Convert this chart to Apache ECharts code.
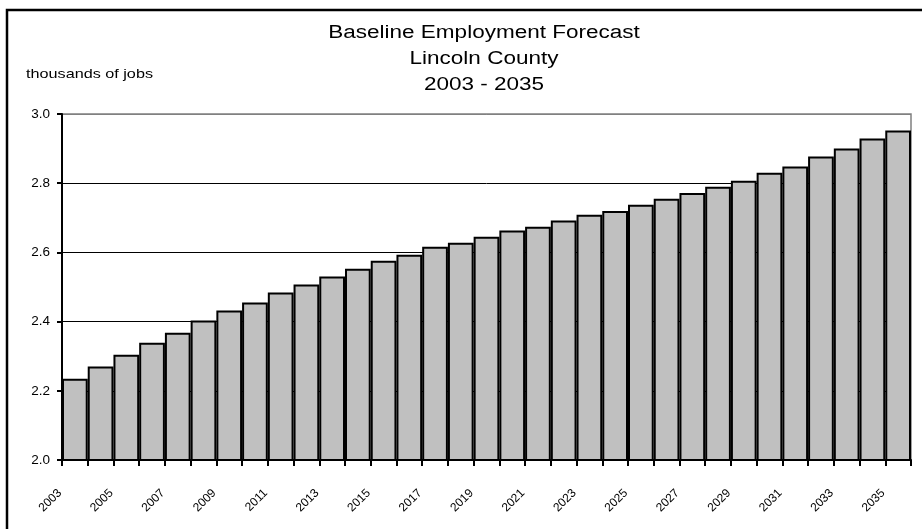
<!DOCTYPE html>
<html>
<head>
<meta charset="utf-8">
<script src="https://cdn.jsdelivr.net/npm/echarts@6/dist/echarts.min.js"></script>
<style>
html,body{margin:0;padding:0;background:#fff;}
#chart{width:922px;height:529px;}
</style>
</head>
<body>
<div id="chart"></div>
<script>
const years = ['2003','2004','2005','2006','2007','2008','2009','2010','2011','2012','2013',
  '2014','2015','2016','2017','2018','2019','2020','2021','2022','2023','2024',
  '2025','2026','2027','2028','2029','2030','2031','2032','2033','2034','2035'];
const jobs = [2.235, 2.270, 2.304, 2.339, 2.368, 2.403, 2.432, 2.455, 2.484, 2.507, 2.530,
  2.553, 2.576, 2.593, 2.616, 2.628, 2.645, 2.663, 2.674, 2.692, 2.709, 2.720,
  2.738, 2.755, 2.772, 2.790, 2.807, 2.830, 2.848, 2.877, 2.900, 2.929, 2.952];
const boundaryLabels = years.concat(['2036']);
const titleLines = ['Baseline Employment Forecast', 'Lincoln County', '2003 - 2035'];
const unitLabel = 'thousands of jobs';

const FONT = 'Liberation Sans, Arial, sans-serif';
const chart = echarts.init(document.getElementById('chart'));
const titleY = [33, 59.5, 85.5];
chart.setOption({
  animation: false,
  backgroundColor: '#ffffff',
  grid: { left: 62, right: 11, top: 114, bottom: 69, show: true, borderColor: '#808080', borderWidth: 1.5, outerBoundsMode: 'none' },
  graphic: [
    { type: 'rect', silent: true, z: -10, shape: { x: 7, y: 10, width: 1000, height: 1000 },
      style: { fill: 'none', stroke: '#000', lineWidth: 2.5 } }
  ].concat(titleLines.map((t, i) => ({
    type: 'text', silent: true, x: 484, y: titleY[i], scaleX: 1.25,
    style: { text: t, x: 0, y: 0, align: 'center', verticalAlign: 'middle', fontFamily: FONT, fontSize: 18, fill: '#000' }
  }))).concat([{
    type: 'text', silent: true, x: 26, y: 74, scaleX: 1.2,
    style: { text: unitLabel, x: 0, y: 0, align: 'left', verticalAlign: 'middle', fontFamily: FONT, fontSize: 13.5, fill: '#000' }
  }]),
  xAxis: [
    {
      type: 'category', data: years, boundaryGap: true, position: 'bottom',
      axisLine: { show: true, lineStyle: { color: '#000', width: 2 } },
      axisTick: { show: true, interval: 0, length: 6, lineStyle: { color: '#000', width: 2 } },
      axisLabel: { show: false },
      splitLine: { show: false }
    },
    {
      type: 'category', data: boundaryLabels, boundaryGap: false, position: 'bottom',
      axisLine: { show: false }, axisTick: { show: false }, splitLine: { show: false },
      axisLabel: { show: true, interval: 1, rotate: 45, margin: 29, padding: [0, 3, 0, 0], fontFamily: FONT, fontSize: 12, color: '#000' }
    }
  ],
  yAxis: {
    type: 'value', min: 2.0, max: 3.0, interval: 0.2,
    axisLine: { show: true, lineStyle: { color: '#000', width: 2 } },
    axisTick: { show: true, length: 5, lineStyle: { color: '#000', width: 2 } },
    axisLabel: { margin: 12, fontFamily: FONT, fontSize: 13.5, color: '#000', formatter: v => v.toFixed(1) },
    splitLine: { show: true, lineStyle: { color: ['#000', '#000', '#000', '#000', '#000', '#808080'], width: 1 } }
  },
  series: [{
    type: 'bar', xAxisIndex: 0, data: jobs, barCategoryGap: '0%',
    itemStyle: { color: '#c0c0c0', borderColor: '#000', borderWidth: 2 }
  }]
});
</script>
</body>
</html>
